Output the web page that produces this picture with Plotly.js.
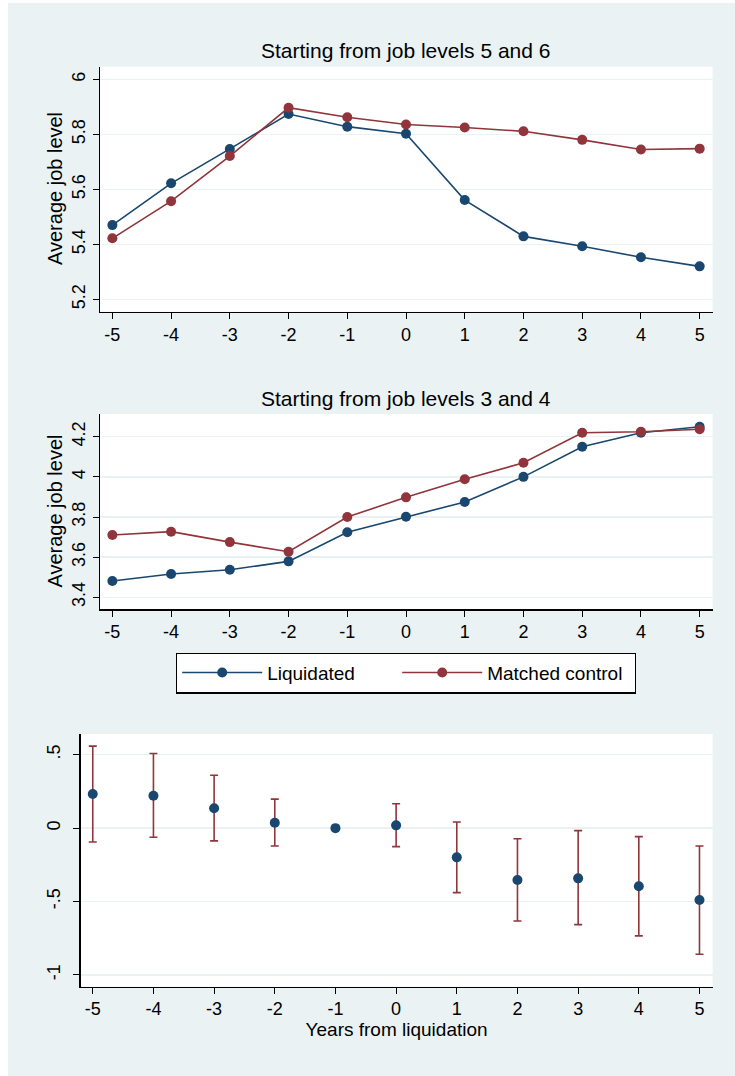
<!DOCTYPE html>
<html>
<head>
<meta charset="utf-8">
<script src="https://cdn.plot.ly/plotly-3.0.1.min.js"></script>
<style>html,body{margin:0;padding:0;background:#fff;}#chart{width:735px;height:1076px;}</style>
</head>
<body>
<div id="chart"></div>
<script>
const years = [-5, -4, -3, -2, -1, 0, 1, 2, 3, 4, 5];
const xTickLabels = ["-5", "-4", "-3", "-2", "-1", "0", "1", "2", "3", "4", "5"];

// Panel 1: starting from job levels 5 and 6
const liq56 = [5.470, 5.622, 5.747, 5.874, 5.828, 5.802, 5.561, 5.429, 5.393, 5.353, 5.320];
const ctrl56 = [5.422, 5.557, 5.721, 5.897, 5.862, 5.836, 5.825, 5.811, 5.780, 5.745, 5.748];
const yTicks56 = [5.2, 5.4, 5.6, 5.8, 6];
const yTickLabels56 = ["5.2", "5.4", "5.6", "5.8", "6"];

// Panel 2: starting from job levels 3 and 4
const liq34 = [3.481, 3.516, 3.537, 3.579, 3.724, 3.801, 3.875, 4.000, 4.150, 4.220, 4.250];
const ctrl34 = [3.710, 3.727, 3.675, 3.627, 3.800, 3.898, 3.988, 4.070, 4.220, 4.225, 4.237];
const yTicks34 = [3.4, 3.6, 3.8, 4, 4.2];
const yTickLabels34 = ["3.4", "3.6", "3.8", "4", "4.2"];

// Panel 3: estimated difference with confidence intervals
const diffEst = [0.232, 0.221, 0.135, 0.037, 0.000, 0.019, -0.199, -0.353, -0.342, -0.396, -0.489];
const diffUpper = [0.559, 0.509, 0.360, 0.198, 0.000, 0.166, 0.042, -0.072, -0.017, -0.058, -0.122];
const diffLower = [-0.094, -0.062, -0.087, -0.122, 0.000, -0.126, -0.439, -0.632, -0.657, -0.734, -0.859];
const yTicksDiff = [-1, -0.5, 0, 0.5];
const yTickLabelsDiff = ["-1", "-.5", "0", ".5"];

const seriesNames = ["Liquidated", "Matched control"];
const titles = ["Starting from job levels 5 and 6", "Starting from job levels 3 and 4"];
const yTitle = "Average job level";
const xTitle = "Years from liquidation";

const BLUE = "#1a476f";
const RED = "#90353b";
const BG = "#eaf2f3";
const FONT = "Liberation Sans, Arial, sans-serif";

const errPlus = diffUpper.map((u, i) => u - diffEst[i]);
const errMinus = diffEst.map((e, i) => e - diffLower[i]);

const lineTrace = (y, name, color, xa, ya, show, lw) => ({
  x: years, y: y, name: name, type: "scatter", mode: "lines+markers",
  xaxis: xa, yaxis: ya, showlegend: show, legendwidth: lw,
  line: {color: color, width: 1.6},
  marker: {color: color, size: 10}
});

const traces = [
  lineTrace(liq56, seriesNames[0], BLUE, "x", "y", true, 125),
  lineTrace(ctrl56, seriesNames[1], RED, "x", "y", true, 142),
  lineTrace(liq34, seriesNames[0], BLUE, "x2", "y2", false),
  lineTrace(ctrl34, seriesNames[1], RED, "x2", "y2", false),
  {
    x: years, y: diffEst, type: "scatter", mode: "markers",
    xaxis: "x3", yaxis: "y3", showlegend: false,
    marker: {color: BLUE, size: 10},
    error_y: {type: "data", symmetric: false, array: errPlus, arrayminus: errMinus,
      color: RED, thickness: 1.6, width: 4}
  }
];

const TICKFONT = {family: FONT, size: 18, color: "#000"};
const xAxisBase = (domain, anchor, range) => ({
  domain: domain, anchor: anchor, range: range,
  tickmode: "array", tickvals: years, ticktext: xTickLabels,
  ticks: "outside", ticklen: 6, tickwidth: 1, tickcolor: "#000",
  showline: true, linecolor: "#000", linewidth: 1.2,
  showgrid: false, zeroline: false, automargin: false,
  tickfont: TICKFONT
});
const yAxisBase = (domain, anchor, range, vals, text, standoff) => ({
  domain: domain, anchor: anchor, range: range,
  tickmode: "array", tickvals: vals, ticktext: text, tickangle: -90,
  ticks: "outside", ticklen: 6, tickwidth: 1, tickcolor: "#000",
  showline: true, linecolor: "#000", linewidth: 1.2,
  showgrid: true, gridcolor: BG, gridwidth: 1.5, zeroline: false, automargin: false,
  ticklabelstandoff: standoff,
  tickfont: TICKFONT
});

const layout = {
  width: 735, height: 1076,
  margin: {l: 0, r: 0, t: 0, b: 0},
  paper_bgcolor: BG, plot_bgcolor: "#fff",
  font: {family: FONT, color: "#000"},
  xaxis: xAxisBase([0.1361, 0.9695], "y", [-5.21, 5.22]),
  yaxis: yAxisBase([0.7103, 0.9380], "x", [5.155, 6.046], yTicks56, yTickLabels56, 1),
  xaxis2: xAxisBase([0.1361, 0.9695], "y2", [-5.21, 5.22]),
  yaxis2: yAxisBase([0.4337, 0.6152], "x2", [3.340, 4.313], yTicks34, yTickLabels34, 1),
  xaxis3: Object.assign(xAxisBase([0.1097, 0.9695], "y3", [-5.2, 5.216]),
    {title: {text: xTitle, font: {family: FONT, size: 19}, standoff: 2}}),
  yaxis3: yAxisBase([0.0830, 0.3178], "x3", [-1.080, 0.641], yTicksDiff, yTickLabelsDiff, 6),
  annotations: [
    {text: titles[0], xref: "paper", yref: "paper", x: 406 / 735, y: 1 - 50.7 / 1076,
      xanchor: "center", yanchor: "middle", showarrow: false, font: {family: FONT, size: 21}},
    {text: titles[1], xref: "paper", yref: "paper", x: 406 / 735, y: 1 - 398.3 / 1076,
      xanchor: "center", yanchor: "middle", showarrow: false, font: {family: FONT, size: 21}},
    {text: yTitle, xref: "paper", yref: "paper", x: 55 / 735, y: 1 - 189 / 1076, textangle: -90,
      xanchor: "center", yanchor: "middle", showarrow: false, font: {family: FONT, size: 20}},
    {text: yTitle, xref: "paper", yref: "paper", x: 55 / 735, y: 1 - 511.6 / 1076, textangle: -90,
      xanchor: "center", yanchor: "middle", showarrow: false, font: {family: FONT, size: 20}}
  ],
  shapes: [
    {type: "rect", xref: "paper", yref: "paper", x0: 0, x1: 8 / 735, y0: 0, y1: 1,
      fillcolor: "#fff", line: {width: 0}, layer: "below"},
    {type: "rect", xref: "paper", yref: "paper", x0: 0, x1: 1, y0: 1 - 3 / 1076, y1: 1,
      fillcolor: "#fff", line: {width: 0}, layer: "below"}
  ],
  legend: {
    orientation: "h", xref: "paper", yref: "paper",
    x: 176 / 735, y: 1 - 652.5 / 1076, xanchor: "left", yanchor: "top",
    bgcolor: "#fff", bordercolor: "#000", borderwidth: 1.2,
    font: {family: FONT, size: 19, color: "#000"},
    itemwidth: 80, tracegroupgap: 0
  }
};

Plotly.newPlot("chart", traces, layout, {displayModeBar: false, staticPlot: true});
</script>
</body>
</html>
